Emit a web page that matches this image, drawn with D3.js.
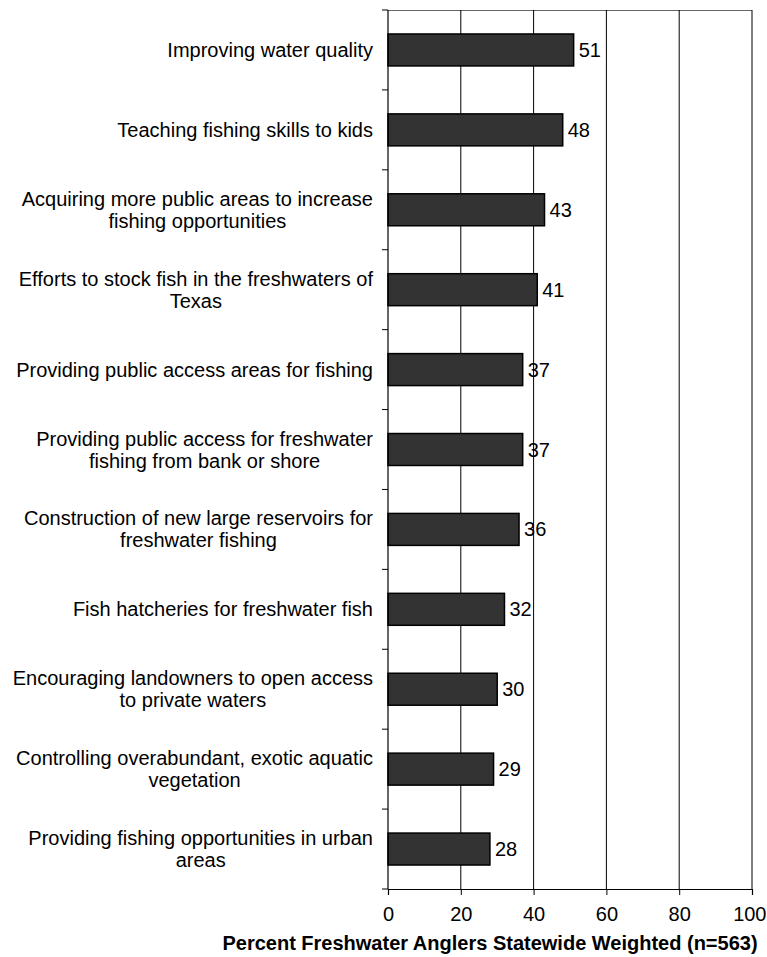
<!DOCTYPE html>
<html><head><meta charset="utf-8">
<script src="https://cdn.jsdelivr.net/npm/d3@7"></script>
<style>body{margin:0;background:#fff;} svg{display:block;font-family:"Liberation Sans",Arial,sans-serif;}</style>
</head><body>
<svg id="c" width="767" height="957"></svg>
<script>
const categories = [
  ["Improving water quality"],
  ["Teaching fishing skills to kids"],
  ["Acquiring more public areas to increase", "fishing opportunities"],
  ["Efforts to stock fish in the freshwaters of", "Texas"],
  ["Providing public access areas for fishing"],
  ["Providing public access for freshwater", "fishing from bank or shore"],
  ["Construction of new large reservoirs for", "freshwater fishing"],
  ["Fish hatcheries for freshwater fish"],
  ["Encouraging landowners to open access", "to private waters"],
  ["Controlling overabundant, exotic aquatic", "vegetation"],
  ["Providing fishing opportunities in urban", "areas"]
];
const values = [51, 48, 43, 41, 37, 37, 36, 32, 30, 29, 28];
const xTicks = [0, 20, 40, 60, 80, 100];
const axisTitle = "Percent Freshwater Anglers Statewide Weighted (n=563)";

const svg = d3.select("#c");
const FS = 20;
const L = 388, R = 752, T = 10, B = 889;
const x = d3.scaleLinear().domain([0, 100]).range([L, R]);
const y = d3.scaleBand().domain(d3.range(categories.length)).range([T, B]).paddingInner(0).paddingOuter(0);

// gridlines
svg.append("g").selectAll("line").data(xTicks.slice(1)).join("line")
  .attr("x1", d => x(d)).attr("x2", d => x(d)).attr("y1", T).attr("y2", B)
  .attr("stroke", "#000").attr("stroke-width", 1);
// top border
svg.append("line").attr("x1", L).attr("x2", R).attr("y1", T + 0.5).attr("y2", T + 0.5)
  .attr("stroke", "#000").attr("stroke-width", 1).attr("stroke-opacity", 0.6);

// bars
const bh = y.bandwidth() * 0.4;
svg.append("g").selectAll("rect").data(values).join("rect")
  .attr("x", x(0)).attr("y", (d, i) => y(i) + (y.bandwidth() - bh) / 2)
  .attr("width", d => x(d) - x(0)).attr("height", bh)
  .attr("fill", "#333333").attr("stroke", "#000").attr("stroke-width", 1.5);

// value labels
svg.append("g").selectAll("text").data(values).join("text")
  .attr("x", d => x(d) + 5).attr("y", (d, i) => y(i) + y.bandwidth() / 2)
  .attr("dy", "0.35em").attr("font-size", FS).attr("fill", "#000").text(d => d);

// x axis
const xa = svg.append("g").attr("transform", `translate(0,${B})`)
  .call(d3.axisBottom(x).tickValues(xTicks).tickSize(6).tickPadding(12));
xa.select(".domain").attr("stroke", "#000").attr("stroke-width", 1.2);
xa.selectAll("text").attr("font-size", FS).attr("font-family", "Liberation Sans, Arial, sans-serif").attr("fill", "#000");
// keep the last tick label inside the canvas
xa.selectAll(".tick").filter(d => d === 100).select("text")
  .attr("text-anchor", "end").attr("x", 766 - R);

// y axis
svg.append("line").attr("x1", L).attr("x2", L).attr("y1", T).attr("y2", B).attr("stroke", "#000").attr("stroke-width", 1.2);
const edges = d3.range(categories.length + 1).map(i => i < categories.length ? y(i) : B);
svg.append("g").selectAll("line").data(edges).join("line")
  .attr("x1", L - 6).attr("x2", L).attr("y1", d => d).attr("y2", d => d)
  .attr("stroke", "#000").attr("stroke-width", 1);

// category labels
const lab = svg.append("g");
const lineH = 22;
categories.forEach((lines, i) => {
  const cy = y(i) + y.bandwidth() / 2;
  const t = lab.append("text").attr("font-size", FS).attr("fill", "#000").attr("text-anchor", "middle");
  const tspans = lines.map((s, j) => t.append("tspan").text(s)
    .attr("y", cy + (j - (lines.length - 1) / 2) * lineH).attr("dy", "0.35em"));
  const maxW = d3.max(tspans, ts => ts.node().getComputedTextLength());
  const cx = 373 - maxW / 2;
  tspans.forEach(ts => ts.attr("x", cx));
});

// axis title
svg.append("text").attr("x", 490).attr("y", 950).attr("text-anchor", "middle")
  .attr("font-size", FS).attr("font-weight", "bold").attr("fill", "#000").text(axisTitle);
</script>
</body></html>
